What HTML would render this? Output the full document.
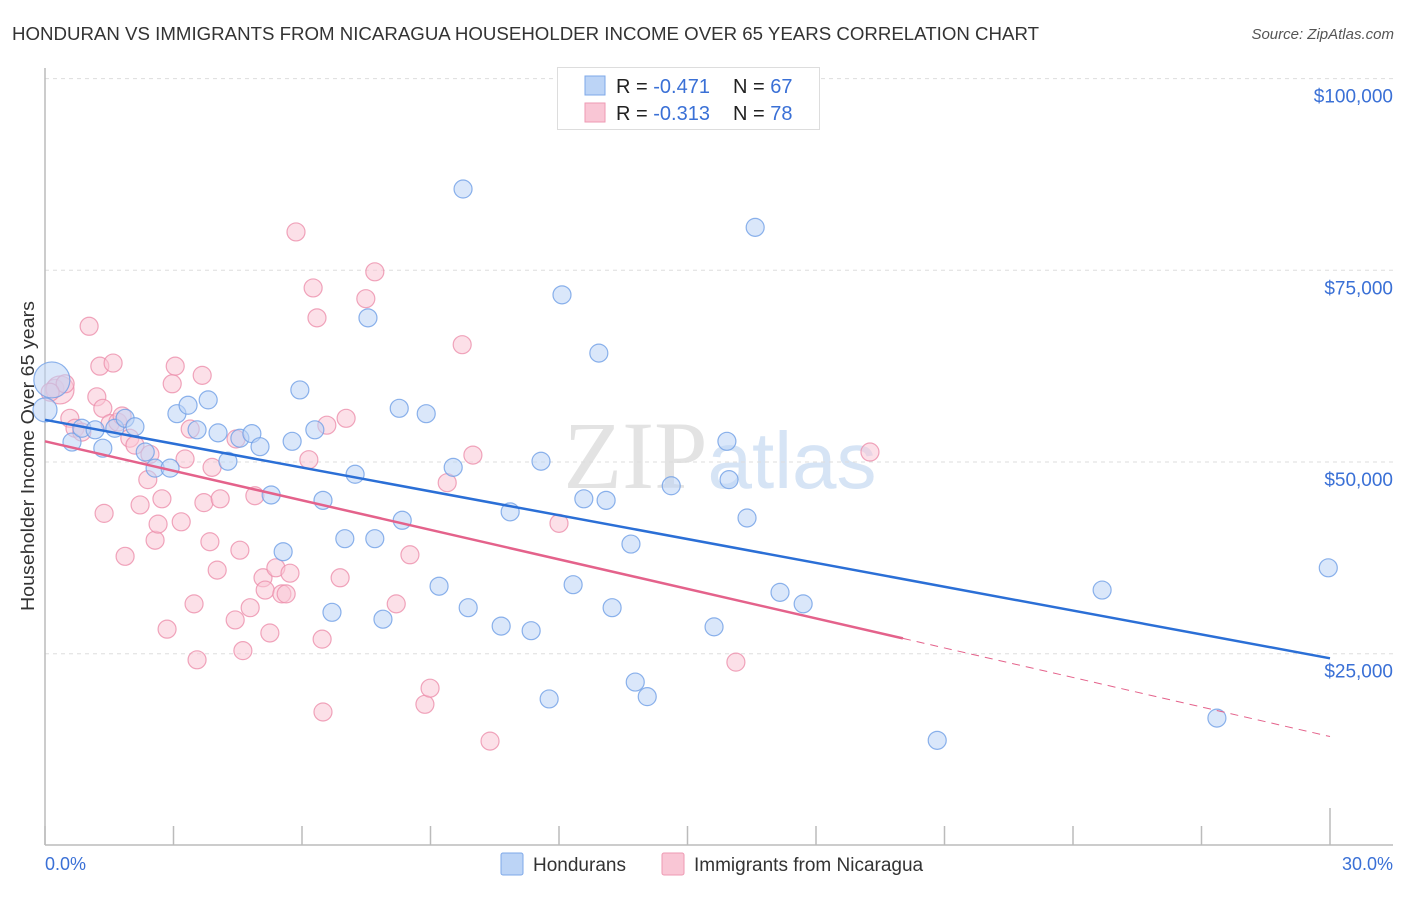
<!DOCTYPE html>
<html><head><meta charset="utf-8"><style>
body{margin:0;background:#fff;font-family:"Liberation Sans",sans-serif;}
svg text{font-family:"Liberation Sans",sans-serif;}
</style></head><body>
<svg id="chart" width="1406" height="892" viewBox="0 0 1406 892" xmlns="http://www.w3.org/2000/svg">
<text x="12" y="40" font-size="18" fill="#333" textLength="1027" lengthAdjust="spacingAndGlyphs">HONDURAN VS IMMIGRANTS FROM NICARAGUA HOUSEHOLDER INCOME OVER 65 YEARS CORRELATION CHART</text>
<text x="1394" y="39" font-size="15" fill="#555" font-style="italic" text-anchor="end">Source: ZipAtlas.com</text>
<text x="720" y="488" font-size="96" fill="#e6e6e6" text-anchor="middle"><tspan font-family="Liberation Serif" fill="#e3e3e3">ZIP</tspan><tspan fill="#d6e4f5" font-size="80">atlas</tspan></text>
<g id="grid"></g>
<g id="axes"></g>
<g id="marks"></g>
<text transform="translate(34,456) rotate(-90)" font-size="18" fill="#333" text-anchor="middle" textLength="310" lengthAdjust="spacingAndGlyphs">Householder Income Over 65 years</text>
<text x="45" y="870" font-size="18" fill="#3a70d6">0.0%</text>
<text x="1393" y="870" font-size="18" fill="#3a70d6" text-anchor="end">30.0%</text>
<g>
<rect x="557.5" y="67.5" width="262" height="62" fill="#fff" stroke="#ddd"/>
<rect x="585" y="76" width="20" height="19" fill="#bcd4f6" stroke="#7ea8e8"/>
<rect x="585" y="103" width="20" height="19" fill="#f9c6d5" stroke="#ee9ab3"/>
<text x="616" y="93" font-size="20" fill="#222">R = <tspan fill="#3a70d6">-0.471</tspan><tspan x="733">N = </tspan><tspan fill="#3a70d6">67</tspan></text>
<text x="616" y="120" font-size="20" fill="#222">R = <tspan fill="#3a70d6">-0.313</tspan><tspan x="733">N = </tspan><tspan fill="#3a70d6">78</tspan></text>
</g>
<g>
<rect x="501" y="853" width="22" height="22" fill="#bcd4f6" stroke="#7ea8e8" rx="2"/>
<text x="533" y="871" font-size="19" fill="#333">Hondurans</text>
<rect x="662" y="853" width="22" height="22" fill="#f9c6d5" stroke="#ee9ab3" rx="2"/>
<text x="694" y="871" font-size="19" fill="#333">Immigrants from Nicaragua</text>
</g>
</svg>
<script>
const yTicks=[25000,50000,75000,100000];
const yTickLabels=["$25,000","$50,000","$75,000","$100,000"];
const blueX=[0.16,0,0.63,0.86,1.17,1.35,1.63,1.87,2.10,2.34,2.57,2.92,3.08,3.34,3.55,3.81,4.04,4.27,4.55,4.83,5.02,5.28,5.56,5.77,5.95,6.30,6.49,6.70,7.00,7.24,7.54,7.70,7.89,8.27,8.34,8.90,9.20,9.53,9.76,9.88,10.65,10.86,11.35,11.58,11.77,12.07,12.33,12.58,12.93,13.10,13.24,13.68,13.78,14.06,14.62,15.62,15.92,15.97,16.39,16.58,17.16,17.70,20.83,24.68,27.36,29.96];
const blueY=[60700,56800,52600,54400,54200,51800,54400,55700,54600,51300,49200,49200,56300,57400,54200,58100,53800,50100,53100,53700,52000,45700,38300,52700,59400,54200,45000,30400,40000,48400,68800,40000,29500,57000,42400,56300,33800,49300,85600,31000,28600,43500,28000,50100,19100,71800,34000,45200,64200,45000,31000,39300,21300,19400,46900,28500,52700,47700,42700,80600,33000,31500,13700,33300,16600,36200];
const pinkX=[0.23,0.35,0.47,0.12,0.58,0.70,0.86,1.03,1.21,1.28,1.35,1.59,1.38,1.52,1.70,1.80,1.87,1.98,2.10,2.22,2.40,2.45,2.57,2.64,2.73,2.85,2.97,3.04,3.18,3.27,3.39,3.48,3.55,3.67,3.71,3.85,3.90,4.02,4.09,4.44,4.46,4.55,4.62,4.79,4.90,5.09,5.14,5.25,5.39,5.53,5.63,5.72,5.86,6.16,6.26,6.35,6.47,6.49,6.58,6.89,7.03,7.49,7.70,8.20,8.52,8.87,8.99,9.39,9.74,9.99,10.39,12.00,16.13,19.26];
const pinkY=[59600,59400,60200,59100,55700,54400,53900,67700,58500,62500,57000,62900,43300,55000,55200,56000,37700,53100,52200,44400,47700,51000,39800,41900,45200,28200,60200,62500,42200,50400,54300,31500,24200,61300,44700,39600,49300,35900,45200,29400,53000,38500,25400,31000,45600,34900,33300,27700,36200,32800,32800,35500,80000,50300,72700,68800,26900,17400,54800,34900,55700,71300,74800,31500,37900,18400,20500,47300,65300,50900,13600,42000,23900,51300];
const blueTrend=[55500,24400];
const pinkTrend=[52700,14200];
const pinkSolidEnd=20.03;
const NS="http://www.w3.org/2000/svg";
const xs=v=>45+v*1285/30;
const ys=v=>462-(v-50000)*191.7/25000;
function mk(tag,attrs,parent){const e=document.createElementNS(NS,tag);for(const k in attrs)e.setAttribute(k,attrs[k]);parent.appendChild(e);return e;}
const grid=document.getElementById('grid'),axes=document.getElementById('axes'),marks=document.getElementById('marks');
yTicks.forEach((t,i)=>{
  const l=mk('line',{x1:45,x2:1393,y1:ys(t),y2:ys(t),stroke:'#ddd','stroke-dasharray':'4,4'},grid);
  
  
  const tx=mk('text',{x:1393,y:ys(t)+24,'font-size':19,fill:'#3a70d6','text-anchor':'end'},grid);
  tx.textContent=yTickLabels[i];
  
  
});
const ya=mk('line',{x1:45,x2:45,y1:68,y2:845,stroke:'#bbb','stroke-width':1.5},axes);


const xa=mk('line',{x1:45,x2:1393,y1:845,y2:845,stroke:'#bbb','stroke-width':1.5},axes);


for(let i=0;i<=10;i++){
  const x=xs(i*3);
  const tk=mk('line',{x1:x,x2:x,y1:(i==10?808:826),y2:845,stroke:'#bbb','stroke-width':1.5},axes);
  
  
}
function dot(x,y,fill,stroke,r,name){
  const c=mk('circle',{cx:xs(x),cy:ys(y),r:r,fill:fill,'fill-opacity':0.55,stroke:stroke,'stroke-opacity':0.8,'stroke-width':1.2},marks);
  
  
}
pinkX.forEach((x,i)=>dot(x,pinkY[i],'#f9c6d5','#ec8fab',i==1?14:9,'nicaragua-point'));
blueX.forEach((x,i)=>dot(x,blueY[i],'#bcd4f6','#6f9fe6',i==0?18:(i==1?12:9),'honduran-point'));
const bl=mk('line',{x1:xs(0),y1:ys(blueTrend[0]),x2:xs(30),y2:ys(blueTrend[1]),stroke:'#2b6fd6','stroke-width':2.5},marks);


const pmid=pinkTrend[0]+(pinkTrend[1]-pinkTrend[0])*pinkSolidEnd/30;
const pl=mk('line',{x1:xs(0),y1:ys(pinkTrend[0]),x2:xs(pinkSolidEnd),y2:ys(pmid),stroke:'#e4628b','stroke-width':2.5},marks);


const pd=mk('line',{x1:xs(pinkSolidEnd),y1:ys(pmid),x2:xs(30),y2:ys(pinkTrend[1]),stroke:'#e4628b','stroke-width':1,'stroke-dasharray':'8,6'},marks);


</script>
</body></html>
